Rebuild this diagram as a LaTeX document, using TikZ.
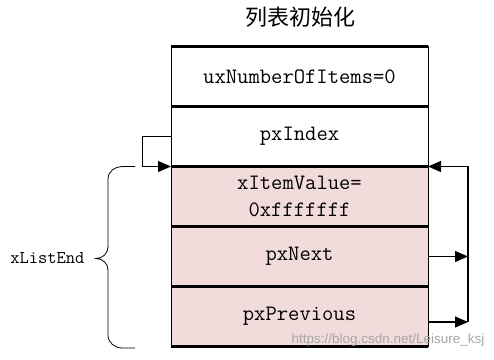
\documentclass[tikz,border=0pt]{standalone}
\usepackage{fontspec}
\newfontfamily\cjkfont{Noto Sans CJK SC}
\newfontfamily\markfont{Liberation Sans}
\usetikzlibrary{arrows.meta,positioning}
\definecolor{itempink}{HTML}{F2DCDB}
\tikzset{
  field/.style={minimum width=257pt, minimum height=60pt, inner sep=0pt, outer sep=0pt,
    font=\ttfamily\fontsize{22}{27}\selectfont, align=center},
  item/.style={field, fill=itempink},
  sepline/.style={line width=2.2pt},
  link/.style={line width=1.1pt, -{Triangle[length=13pt,width=11pt]}},
}

\begin{document}
\begin{tikzpicture}[x=1pt, y=1pt]
    \useasboundingbox (0,0) rectangle (494,359);
    \node[font=\cjkfont\fontsize{22}{22}\selectfont] (title) at (300,342) {列表初始化};
    % list fields
    \node[field] (num) at (299.5,282.5) {uxNumberOfItems=0};
    \node[field, below=0pt of num] (idx) {pxIndex};
    \node[item, below=0pt of idx] (val) {xItemValue=\\0xfffffff};
    \node[item, below=0pt of val] (nxt) {pxNext};
    \node[item, below=0pt of nxt] (prv) {pxPrevious};
    \draw[line width=0.8pt] (num.north west) -- (prv.south west);
    \draw[line width=0.8pt] (num.north east) -- (prv.south east);
    \foreach \b in {num,idx,val,nxt,prv} \draw[sepline] (\b.north west) -- (\b.north east);
    \draw[sepline] (prv.south west) -- (prv.south east);
    % pxIndex points to xListEnd
    \draw[link] (idx.west) -- ++(-28.5,0) |- (val.north west);
    % pxNext and pxPrevious point back
    \draw[link] ([yshift=-5.5pt]prv.east) -- ++(40,0) coordinate (rt);
    \draw[link] (nxt.east) -- (nxt.east -| rt);
    \draw[link] (rt) |- (val.north east);
    % brace
    \coordinate (tip) at (96,100.5);
    \draw[line width=0.8pt] (135,192.5) -- (122,192.5) to[out=180,in=90] (108,180)
        -- (108,112) to[out=-90,in=0] (tip) to[out=0,in=90] (108,89)
        -- (108,24) to[out=-90,in=180] (122,11) -- (135,11);
    \node[font=\ttfamily\fontsize{18}{18}\selectfont, left=8pt of tip] (endlbl) {xListEnd};
    \node[font=\markfont\fontsize{13.5}{14}\selectfont, text=gray!70, anchor=east] (mark) at (488,19) {https://blog.csdn.net/Leisure\_ksj};
\end{tikzpicture}
\end{document}
